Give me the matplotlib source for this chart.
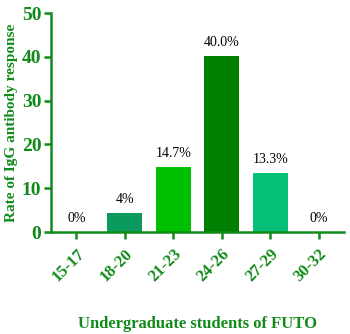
import matplotlib
matplotlib.use('Agg')
import matplotlib.pyplot as plt
import numpy as np

plt.rcParams['font.family'] = ['Liberation Serif', 'DejaVu Serif']

age_groups = ['15-17', '18-20', '21-23', '24-26', '27-29', '30-32']
rates = [0, 4.3, 14.9, 40.2, 13.4, 0]
bar_labels = ['0%', '4%', '14.7%', '40.0%', '13.3%', '0%']
colors = ['#0a9a5e', '#0a9a5e', '#00c000', '#008000', '#06c078', '#06c078']

green = '#118a1a'

fig = plt.figure(figsize=(3.5, 3.34), dpi=100)
ax = fig.add_axes([0.146, 0.305, 0.837, 0.656])

x = np.arange(len(age_groups))
ax.bar(x, rates, width=0.72, color=colors, zorder=2)

for xi, r, lab in zip(x, rates, bar_labels):
    ax.text(xi, r + 1.6, lab, ha='center', va='bottom', fontsize=10, color='black')

ax.set_xlim(-0.52, 5.52)
ax.set_ylim(0, 50)
ax.set_yticks([0, 10, 20, 30, 40, 50])
ax.set_xticks(x)
ax.set_xticklabels(age_groups, rotation=45, ha='right', rotation_mode='anchor',
                   fontsize=12, fontweight='bold', color=green)
for lab in ax.get_yticklabels():
    lab.set_fontsize(14)
    lab.set_fontweight('bold')
    lab.set_color(green)

ax.spines['top'].set_visible(False)
ax.spines['right'].set_visible(False)
for s in ['left', 'bottom']:
    ax.spines[s].set_color(green)
    ax.spines[s].set_linewidth(1.8)
ax.tick_params(axis='both', colors=green, width=1.8, length=5, pad=2)
ax.tick_params(axis='x', pad=5)

ax.set_ylabel('Rate of IgG antibody response', fontsize=11, fontweight='bold',
              color=green, labelpad=3)
ax.set_xlabel('Undergraduate students of FUTO', fontsize=12, fontweight='bold',
              color=green, labelpad=22)

fig.savefig('out.png', dpi=100)
